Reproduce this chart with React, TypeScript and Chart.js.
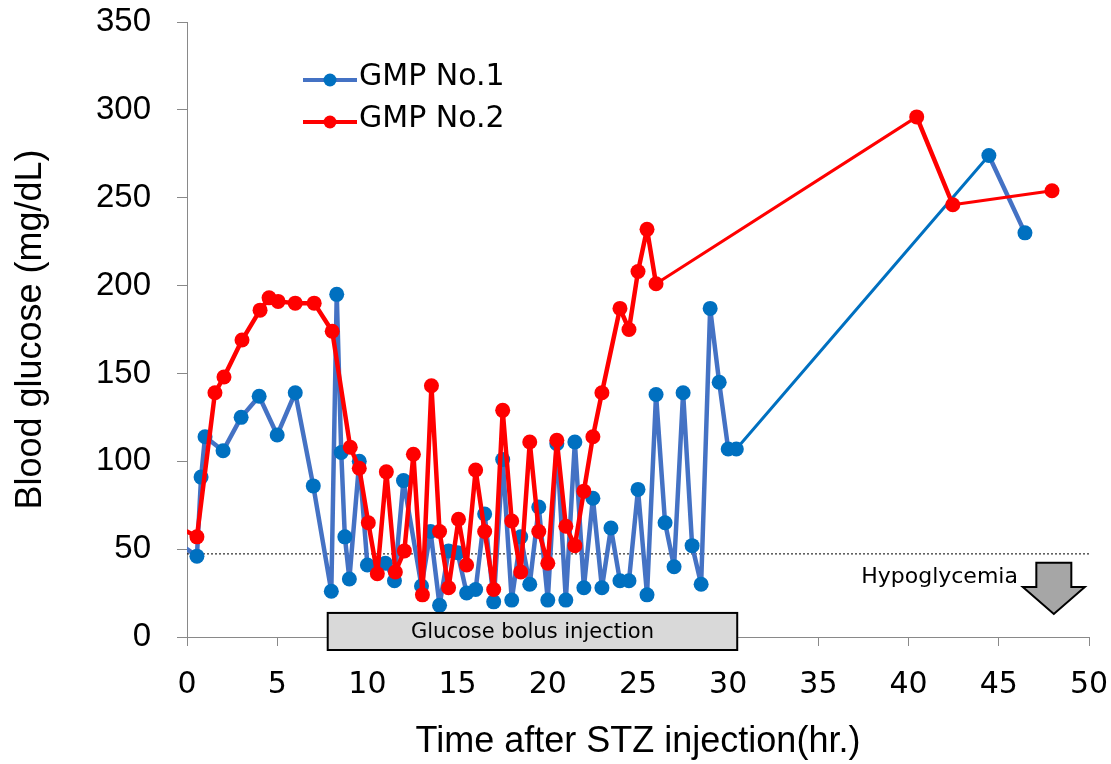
import React, { useEffect, useRef } from "react";
import { Chart, registerables } from "chart.js";

Chart.register(...registerables);

// ---- data ----
const blueX = [0, 0.55, 0.78, 1, 2, 3, 4, 5, 6, 7, 8, 8.3, 8.55, 8.75, 9, 9.55, 10, 11, 11.5, 12, 13, 13.5, 14, 14.5, 15, 15.5, 16, 16.5, 17, 17.5, 18, 18.5, 19, 19.5, 20, 20.5, 21, 21.5, 22, 22.5, 23, 23.5, 24, 24.5, 25, 25.5, 26, 26.5, 27, 27.5, 28, 28.5, 29, 29.5, 30, 30.45, 44.45, 46.45];
const blueY = [50, 46, 91, 114, 106, 125, 137, 115, 139, 86, 26, 195, 105, 57, 33, 100, 41, 42, 32, 89, 29, 60, 18, 49, 48, 25, 27, 70, 20, 101, 21, 57, 30, 74, 21, 110, 21, 111, 28, 79, 28, 62, 32, 32, 84, 24, 138, 65, 40, 139, 52, 30, 187, 145, 107, 107, 274, 230];
const redX = [0, 0.55, 1.55, 2.05, 3.05, 4.05, 4.55, 5.05, 6, 7.05, 8.05, 9.05, 9.55, 10.05, 10.55, 11.05, 11.55, 12.05, 12.55, 13.05, 13.55, 14, 14.5, 15.05, 15.5, 16, 16.5, 17, 17.5, 18, 18.5, 19, 19.5, 20, 20.5, 21, 21.5, 22, 22.5, 23, 24, 24.5, 25, 25.5, 26, 40.45, 42.45, 47.95];
const redY = [60, 57, 139, 148, 169, 186, 193, 191, 190, 190, 174, 108, 96, 65, 36, 94, 37, 49, 104, 24, 143, 60, 28, 67, 41, 95, 60, 27, 129, 66, 37, 111, 60, 42, 112, 63, 52, 83, 114, 139, 187, 175, 208, 232, 201, 296, 246, 254];
const seriesNames = ["GMP No.1", "GMP No.2"];
const hypoLineX = [0, 50];
const hypoLineY = [47.3, 47.3];
const xTicks = { min: 0, max: 50, step: 5 };
const yTicks = { min: 0, max: 350, step: 50 };
const bolusLabel = "Glucose bolus injection";
const bolusRange = [7.8, 30.5];
const hypoLabel = "Hypoglycemia";

const BLUE_LINE = "#4472C4";
const BLUE_MARK = "#0070C0";
const RED = "#FF0000";
const AXIS = "#898989";

const toPts = (xs: number[], ys: number[]) => xs.map((x, i) => ({ x, y: ys[i] }));

const annotations = {
  id: "annotations",
  afterDraw(chart: any) {
    const { ctx, scales } = chart;
    const x = scales.x, y = scales.y;
    ctx.save();
    // Glucose bolus box
    const bx0 = x.getPixelForValue(bolusRange[0]);
    const bx1 = x.getPixelForValue(bolusRange[1]);
    const by0 = y.getPixelForValue(13.7);
    const by1 = y.getPixelForValue(-7.4);
    ctx.fillStyle = "#D9D9D9";
    ctx.fillRect(bx0, by0, bx1 - bx0, by1 - by0);
    ctx.strokeStyle = "#000";
    ctx.lineWidth = 2;
    ctx.strokeRect(bx0, by0, bx1 - bx0, by1 - by0);
    ctx.fillStyle = "#000";
    ctx.font = '21px "DejaVu Sans"';
    ctx.textAlign = "center";
    ctx.textBaseline = "middle";
    ctx.fillText(bolusLabel, (bx0 + bx1) / 2, (by0 + by1) / 2 + 1);

    // Hypoglycemia text
    ctx.font = '22px "DejaVu Sans"';
    ctx.textAlign = "right";
    ctx.textBaseline = "alphabetic";
    ctx.fillText(hypoLabel, x.getPixelForValue(46.06), y.getPixelForValue(30.8));

    // arrow
    const cx = x.getPixelForValue(48.05);
    const top = y.getPixelForValue(42.2);
    const mid = y.getPixelForValue(28.5);
    const tip = y.getPixelForValue(13.1);
    ctx.beginPath();
    ctx.moveTo(cx - 17.5, top);
    ctx.lineTo(cx + 17.5, top);
    ctx.lineTo(cx + 17.5, mid);
    ctx.lineTo(cx + 31, mid);
    ctx.lineTo(cx, tip);
    ctx.lineTo(cx - 31, mid);
    ctx.lineTo(cx - 17.5, mid);
    ctx.closePath();
    ctx.fillStyle = "#A6A6A6";
    ctx.fill();
    ctx.strokeStyle = "#000";
    ctx.lineWidth = 2;
    ctx.stroke();

    // legend
    const entries = [
      { name: seriesNames[0], line: BLUE_LINE, mark: BLUE_MARK, yy: 80 },
      { name: seriesNames[1], line: RED, mark: RED, yy: 122 },
    ];
    entries.forEach((e) => {
      ctx.strokeStyle = e.line;
      ctx.lineWidth = 4;
      ctx.beginPath();
      ctx.moveTo(303, e.yy);
      ctx.lineTo(357, e.yy);
      ctx.stroke();
      ctx.fillStyle = e.mark;
      ctx.beginPath();
      ctx.arc(330, e.yy, 6.5, 0, Math.PI * 2);
      ctx.fill();
      ctx.fillStyle = "#000";
      ctx.font = '30px "DejaVu Sans"';
      ctx.textAlign = "left";
      ctx.textBaseline = "middle";
      ctx.fillText(e.name, 359, e.yy - 3);
    });
    ctx.restore();
  },
};

export default function App() {
  const ref = useRef<HTMLCanvasElement>(null);
  useEffect(() => {
    if (!ref.current) return;
    const isGap = (ctx: any) => ctx.p1.parsed.x - ctx.p0.parsed.x > 5;
    const gapWidth = (ctx: any) => (isGap(ctx) ? 3 : 4.5);
    const chart = new Chart(ref.current, {
      type: "line",
      data: {
        datasets: [
          {
            label: seriesNames[1],
            data: toPts(redX, redY),
            borderColor: RED,
            backgroundColor: RED,
            borderWidth: 4.5,
            borderJoinStyle: "round",
            borderCapStyle: "round",
            pointRadius: (c: any) => (c.dataIndex === 0 ? 0 : 7.5),
            pointBackgroundColor: RED,
            pointBorderWidth: 0,
            order: 0,
            segment: { borderWidth: gapWidth },
          },
          {
            label: seriesNames[0],
            data: toPts(blueX, blueY),
            borderColor: BLUE_LINE,
            backgroundColor: BLUE_MARK,
            borderWidth: 4.5,
            borderJoinStyle: "round",
            borderCapStyle: "round",
            pointRadius: (c: any) => (c.dataIndex === 0 ? 0 : 7.5),
            pointBackgroundColor: BLUE_MARK,
            pointBorderWidth: 0,
            order: 1,
            segment: {
              borderWidth: gapWidth,
              borderColor: (ctx: any) => (isGap(ctx) ? BLUE_MARK : BLUE_LINE),
            },
          },
          {
            label: "Hypoglycemia threshold",
            data: toPts(hypoLineX, hypoLineY),
            borderColor: "#000",
            borderWidth: 1,
            borderDash: [2, 2],
            pointRadius: 0,
            order: 2,
          },
        ],
      },
      options: {
        responsive: false,
        animation: false,
        layout: { padding: { top: 22, right: 22, left: 0, bottom: 0 } },
        plugins: { legend: { display: false }, tooltip: { enabled: false } },
        scales: {
          x: {
            type: "linear",
            min: xTicks.min,
            max: xTicks.max,
            ticks: { stepSize: xTicks.step, color: "#000", font: { family: "DejaVu Sans", size: 30 }, padding: 21 },
            grid: { drawOnChartArea: false, drawTicks: true, tickLength: 9, color: AXIS },
            border: { display: true, color: AXIS, width: 1 },
            title: {
              display: true,
              text: "Time after STZ injection(hr.)",
              color: "#000",
              font: { family: "Liberation Sans", size: 36 },
              padding: { top: 0, bottom: 0 },
            },
            afterFit: (s: any) => {
              s.height = 127;
              s.paddingLeft = 0;
              s.paddingRight = 0;
            },
          },
          y: {
            type: "linear",
            min: yTicks.min,
            max: yTicks.max,
            ticks: { stepSize: yTicks.step, color: "#000", font: { family: "Liberation Sans", size: 33 }, padding: 26 },
            grid: { drawOnChartArea: false, drawTicks: true, tickLength: 10, color: AXIS },
            border: { display: true, color: AXIS, width: 1 },
            title: {
              display: true,
              text: "Blood glucose (mg/dL)",
              color: "#000",
              font: { family: "Liberation Sans", size: 36 },
              padding: { top: 9, bottom: 0 },
            },
            afterFit: (s: any) => {
              s.width = 187;
              s.paddingTop = 0;
              s.paddingBottom = 0;
            },
          },
        },
      },
      plugins: [annotations],
    });
    return () => chart.destroy();
  }, []);
  return (
    <div style={{ position: "fixed", left: 0, top: 0, width: 1111, height: 764, background: "#fff" }}>
      <canvas ref={ref} width={1111} height={764} />
    </div>
  );
}
